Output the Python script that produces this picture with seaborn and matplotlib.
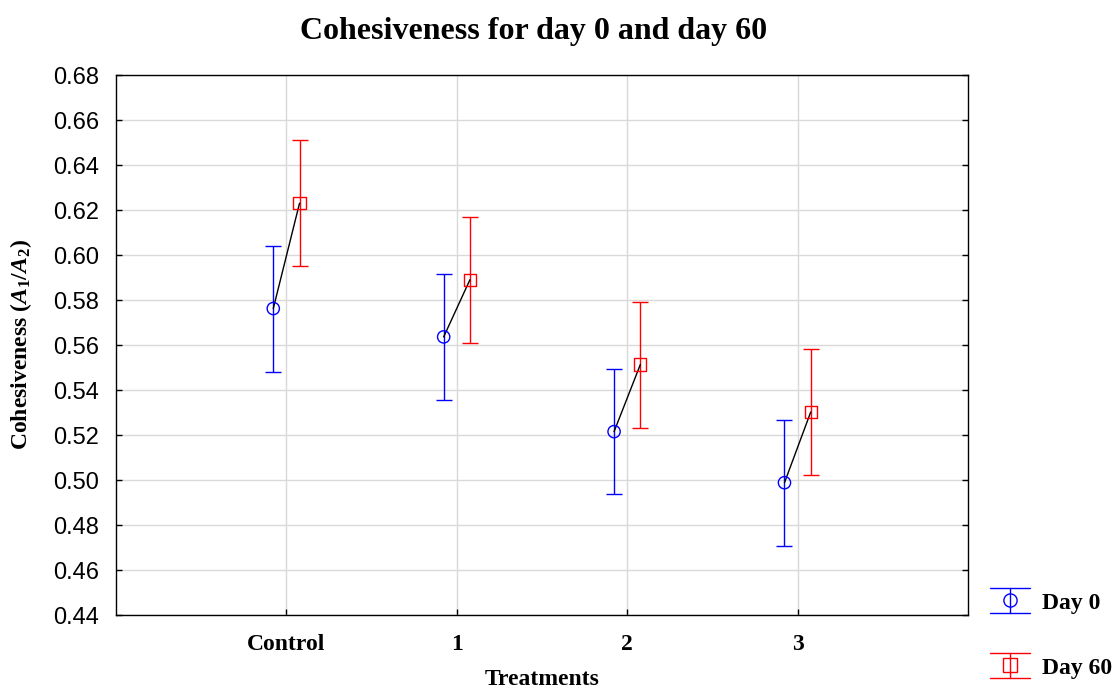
import numpy as np
import pandas as pd
import matplotlib
matplotlib.use("Agg")
import matplotlib.pyplot as plt
import seaborn as sns
from matplotlib.lines import Line2D
from matplotlib.legend_handler import HandlerBase

# Treatment groups and measured cohesiveness (mean with error half-width)
treatments = ["Control", "1", "2", "3"]
day0_mean = [0.5762, 0.5636, 0.5215, 0.4988]
day0_err = [0.0280, 0.0280, 0.0278, 0.0280]
day60_mean = [0.6230, 0.5890, 0.5513, 0.5302]
day60_err = [0.0280, 0.0280, 0.0280, 0.0280]
day_labels = ["Day 0", "Day 60"]
yticks = [0.44, 0.46, 0.48, 0.50, 0.52, 0.54, 0.56, 0.58, 0.60, 0.62, 0.64, 0.66, 0.68]

colors = {"Day 0": "#0000ff", "Day 60": "#ff0000"}
markers = {"Day 0": "o", "Day 60": "s"}
dodge = {"Day 0": -0.077, "Day 60": 0.077}

rows = []
for i, t in enumerate(treatments):
    for day, means, errs in (("Day 0", day0_mean, day0_err), ("Day 60", day60_mean, day60_err)):
        rows.append({"treatment": t, "day": day, "mean": means[i], "err": errs[i],
                     "pos": i + dodge[day]})
df = pd.DataFrame(rows)

sns.set_theme(style="white")
plt.rcParams["font.family"] = ["Liberation Serif", "DejaVu Serif"]
plt.rcParams["text.color"] = "black"
plt.rcParams["axes.labelcolor"] = "black"
plt.rcParams["xtick.color"] = "black"
plt.rcParams["ytick.color"] = "black"
plt.rcParams["mathtext.fontset"] = "custom"
plt.rcParams["mathtext.rm"] = "Liberation Serif:bold"
plt.rcParams["mathtext.it"] = "Liberation Serif:italic:bold"
plt.rcParams["mathtext.bf"] = "Liberation Serif:bold"

fig = plt.figure(figsize=(11.15, 6.93), dpi=100)
ax = fig.add_axes([116 / 1115, 1 - 615 / 693, (968 - 116) / 1115, (615 - 75) / 693])

# error bars per sampling day
for day in day_labels:
    sub = df[df["day"] == day]
    ax.errorbar(sub["pos"], sub["mean"], yerr=sub["err"], fmt="none",
                ecolor=colors[day], elinewidth=1.0, capsize=6, capthick=1.0, zorder=3)

# segment joining day 0 and day 60 within each treatment
sns.lineplot(data=df, x="pos", y="mean", units="treatment", estimator=None,
             color="black", linewidth=1.0, ax=ax, legend=False, zorder=4, sort=False)

# hollow markers
sns.scatterplot(data=df, x="pos", y="mean", hue="day", style="day",
                palette=colors, markers=markers, s=78, linewidth=1.0,
                ax=ax, legend=False, zorder=5)
pts = ax.collections[-1]
pts.set_edgecolors(pts.get_facecolors())
pts.set_facecolors("none")

ax.set_xlim(-1, 4)
ax.set_ylim(0.44, 0.68)
ax.set_xticks(range(len(treatments)))
ax.set_xticklabels(treatments, fontsize=17, fontweight="bold", family="Liberation Serif")
ax.set_yticks(yticks)
ax.set_yticklabels([f"{v:.2f}" for v in yticks], fontsize=17, family="Liberation Sans")
ax.tick_params(axis="both", direction="in", length=4, width=1, color="black",
               top=False, right=True, left=True, bottom=True)
ax.tick_params(axis="x", pad=14)
ax.tick_params(axis="y", pad=12)
ax.grid(True, color="#d9d9d9", linewidth=1.0)
ax.set_axisbelow(True)
for sp in ax.spines.values():
    sp.set_color("black")
    sp.set_linewidth(1.0)

ax.set_xlabel("Treatments", fontsize=17, fontweight="bold", labelpad=10)
ax.set_ylabel(r"Cohesiveness ($\mathit{A}_{1}$/$\mathit{A}_{2}$)", fontsize=17,
              fontweight="bold", labelpad=14)
ax.set_title("Cohesiveness for day 0 and day 60", fontsize=23, fontweight="bold",
             pad=26, x=0.49)


class ErrorBarKey(HandlerBase):
    """Legend key: vertical bar with full-width caps and a hollow marker."""

    def __init__(self, marker, color, **kw):
        super().__init__(**kw)
        self.marker = marker
        self.color = color

    def create_artists(self, legend, orig_handle, xdescent, ydescent, width, height,
                       fontsize, trans):
        xm = -xdescent + width / 2
        yc = -ydescent + height / 2
        half = 0.53 * fontsize
        x0, x1 = -xdescent, -xdescent + width
        arts = [
            Line2D([xm, xm], [yc - half, yc + half], color=self.color, lw=1.0),
            Line2D([x0, x1], [yc - half, yc - half], color=self.color, lw=1.0),
            Line2D([x0, x1], [yc + half, yc + half], color=self.color, lw=1.0),
            Line2D([xm], [yc], marker=self.marker, ms=9.5, mfc="none",
                   mec=self.color, mew=1.0, linestyle="none"),
        ]
        for a in arts:
            a.set_transform(trans)
        return arts


handles = [Line2D([], [], color=colors[d], label=d) for d in day_labels]
fig.legend(handles=handles, labels=day_labels, loc="upper left",
           bbox_to_anchor=(990 / 1115, 1 - 592 / 693), frameon=False,
           prop={"family": "Liberation Serif", "weight": "bold", "size": 17},
           handlelength=1.7, handletextpad=0.5, labelspacing=1.85, borderpad=0,
           borderaxespad=0,
           handler_map={h: ErrorBarKey(markers[d], colors[d]) for h, d in zip(handles, day_labels)})

fig.savefig("out.png", dpi=100)
